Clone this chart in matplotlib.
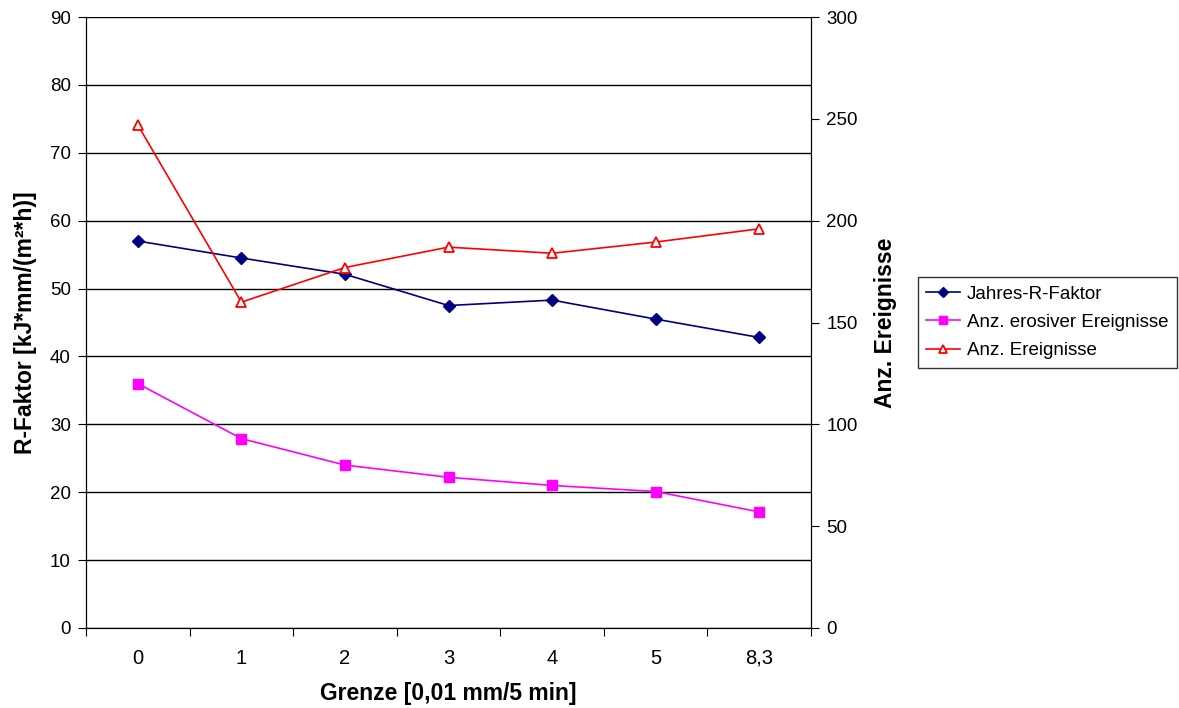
import matplotlib
matplotlib.use("Agg")
import matplotlib.pyplot as plt

plt.rcParams['font.family'] = ['Liberation Sans', 'DejaVu Sans']

# data
grenze = ['0', '1', '2', '3', '4', '5', '8,3']
r_faktor = [57.0, 54.5, 52.1, 47.5, 48.3, 45.5, 42.8]
erosive = [120, 93, 80, 74, 70, 67, 57]
ereignisse = [247, 160, 177, 187, 184, 189.5, 196]

fig = plt.figure(figsize=(11.79, 7.08), dpi=100)
ax = fig.add_axes([86 / 1179, 80 / 708, 725 / 1179, 611 / 708])
ax2 = ax.twinx()

x = list(range(len(grenze)))

l1, = ax.plot(x, r_faktor, color='#000080', marker='D', markersize=6.5, lw=1.2,
              label='Jahres-R-Faktor')
l2, = ax2.plot(x, erosive, color='#FF00FF', marker='s', markersize=6.5, lw=1.2,
               label='Anz. erosiver Ereignisse')
l3, = ax2.plot(x, ereignisse, color='#FF0000', marker='^', markersize=7.5, lw=1.2,
               markerfacecolor='white', markeredgecolor='#FF0000', markeredgewidth=1.3,
               label='Anz. Ereignisse')

ax.set_xlim(-0.5, len(grenze) - 0.5)
ax.set_ylim(0, 90)
ax.set_yticks(range(0, 91, 10))
ax2.set_ylim(0, 300)
ax2.set_yticks(range(0, 301, 50))

ax.set_xticks([i - 0.5 for i in range(len(grenze) + 1)], minor=False)
ax.set_xticklabels([])
ax.set_xticks(x, minor=True)
ax.set_xticklabels(grenze, minor=True)
ax.tick_params(axis='x', which='minor', length=0, pad=15, labelsize=14.5)
ax.tick_params(axis='x', which='major', length=6, direction='out')
ax.tick_params(axis='y', length=6, direction='out', labelsize=13.5, pad=5)
ax2.tick_params(axis='y', length=6, direction='out', labelsize=13.5, pad=5)

ax.yaxis.grid(True, color='black', lw=1)
ax.set_axisbelow(True)
for a in (ax, ax2):
    a.spines['top'].set_visible(False)
    a.patch.set_visible(False)

ax.set_xlabel('Grenze [0,01 mm/5 min]', fontsize=16.5, fontweight='bold', labelpad=10)
ax.set_ylabel('R-Faktor [kJ*mm/(m²*h)]', fontsize=16.5, fontweight='bold', labelpad=9)
ax2.set_ylabel('Anz. Ereignisse', fontsize=16.5, fontweight='bold', labelpad=12)

leg = fig.legend(handles=[l1, l2, l3], loc='upper left',
                 bbox_to_anchor=(918 / 1179, 1 - 277 / 708), fontsize=13.5,
                 frameon=True, fancybox=False, edgecolor='black', borderaxespad=0,
                 handlelength=1.8, markerscale=0.8, labelspacing=0.6,
                 borderpad=0.45, handletextpad=0.35)
leg.get_frame().set_linewidth(1)

fig.savefig('out.png', dpi=100)
